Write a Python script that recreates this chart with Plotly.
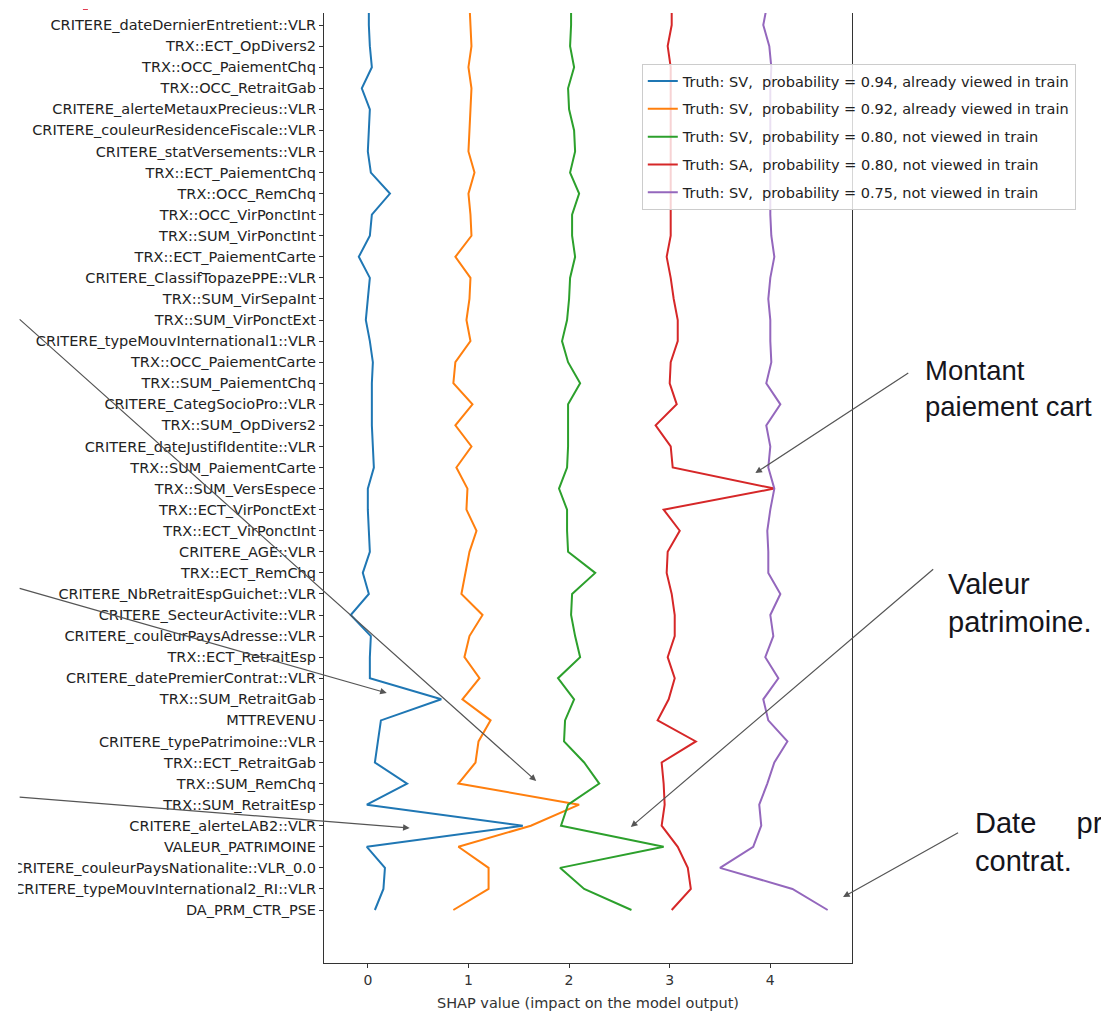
import plotly.graph_objects as go

# Features, listed top to bottom as they appear on the y axis
features = [
    "CRITERE_dateDernierEntretient::VLR", "TRX::ECT_OpDivers2", "TRX::OCC_PaiementChq",
    "TRX::OCC_RetraitGab", "CRITERE_alerteMetauxPrecieus::VLR", "CRITERE_couleurResidenceFiscale::VLR",
    "CRITERE_statVersements::VLR", "TRX::ECT_PaiementChq", "TRX::OCC_RemChq",
    "TRX::OCC_VirPonctInt", "TRX::SUM_VirPonctInt", "TRX::ECT_PaiementCarte",
    "CRITERE_ClassifTopazePPE::VLR", "TRX::SUM_VirSepaInt", "TRX::SUM_VirPonctExt",
    "CRITERE_typeMouvInternational1::VLR", "TRX::OCC_PaiementCarte", "TRX::SUM_PaiementChq",
    "CRITERE_CategSocioPro::VLR", "TRX::SUM_OpDivers2", "CRITERE_dateJustifIdentite::VLR",
    "TRX::SUM_PaiementCarte", "TRX::SUM_VersEspece", "TRX::ECT_VirPonctExt",
    "TRX::ECT_VirPonctInt", "CRITERE_AGE::VLR", "TRX::ECT_RemChq",
    "CRITERE_NbRetraitEspGuichet::VLR", "CRITERE_SecteurActivite::VLR", "CRITERE_couleurPaysAdresse::VLR",
    "TRX::ECT_RetraitEsp", "CRITERE_datePremierContrat::VLR", "TRX::SUM_RetraitGab",
    "MTTREVENU", "CRITERE_typePatrimoine::VLR", "TRX::ECT_RetraitGab",
    "TRX::SUM_RemChq", "TRX::SUM_RetraitEsp", "CRITERE_alerteLAB2::VLR",
    "VALEUR_PATRIMOINE", "CRITERE_couleurPaysNationalite::VLR_0.0", "CRITERE_typeMouvInternational2_RI::VLR",
    "DA_PRM_CTR_PSE",
]

# Cumulative SHAP value at each feature (top to bottom), plus the model output above the top feature
blue_out = 0.01
blue = [0.01, 0.02, 0.04, -0.06, 0.02, 0.01, 0.00, 0.03, 0.22, 0.04, 0.02, -0.09, 0.02, 0.00, -0.02,
        0.02, 0.05, 0.04, 0.04, 0.04, 0.05, 0.06, 0.00, 0.00, 0.01, 0.02, -0.05, 0.01, -0.17, 0.03,
        0.02, 0.02, 0.73, 0.13, 0.10, 0.07, 0.39, -0.01, 1.54, -0.01, 0.17, 0.155, 0.07]
orange_out = 1.01
orange = [1.02, 1.03, 1.00, 1.03, 1.02, 1.01, 1.00, 1.06, 1.00, 1.02, 1.03, 0.87, 1.02, 1.01, 0.98,
          1.02, 0.87, 0.85, 1.04, 0.87, 1.03, 0.88, 0.99, 0.98, 1.08, 1.01, 0.97, 0.93, 1.14, 1.01,
          0.96, 1.11, 0.94, 1.22, 1.10, 1.07, 0.90, 2.10, 1.62, 0.90, 1.20, 1.20, 0.85]
green_out = 2.02
green = [2.02, 2.01, 2.05, 1.99, 2.00, 2.05, 2.06, 2.01, 2.10, 2.03, 2.03, 2.06, 2.01, 2.00, 1.98,
         1.93, 1.99, 2.11, 1.99, 1.99, 1.99, 1.98, 1.90, 1.98, 1.98, 1.99, 2.26, 2.03, 2.02, 2.06,
         2.11, 1.89, 2.05, 1.96, 1.95, 2.15, 2.30, 1.99, 1.92, 2.94, 1.91, 2.15, 2.62]
red_out = 3.02
red = [3.02, 2.98, 3.01, 3.01, 3.01, 3.01, 3.01, 3.01, 3.01, 3.01, 3.01, 2.97, 3.01, 3.04, 3.08,
       3.08, 3.01, 3.00, 3.07, 2.86, 3.01, 3.03, 4.04, 2.94, 3.10, 2.98, 2.97, 3.02, 3.05, 3.05,
       2.98, 3.05, 2.99, 2.88, 3.26, 2.92, 2.94, 2.95, 2.92, 3.08, 3.18, 3.21, 3.02]
purple_out = 3.97
purple = [3.93, 3.99, 4.01, 4.00, 4.00, 4.00, 4.00, 4.00, 4.00, 4.00, 4.01, 4.04, 4.00, 3.98, 4.00,
          4.00, 4.01, 3.96, 4.10, 3.96, 4.00, 3.98, 4.04, 4.00, 3.97, 3.98, 3.98, 4.10, 4.00, 4.03,
          3.95, 4.08, 3.93, 3.98, 4.17, 4.04, 3.97, 3.89, 3.91, 3.83, 3.50, 4.22, 4.57]

series_names = [
    "Truth: SV,\u00a0 probability = 0.94, already viewed in train",
    "Truth: SV,\u00a0 probability = 0.92, already viewed in train",
    "Truth: SV,\u00a0 probability = 0.80, not viewed in train",
    "Truth: SA,\u00a0 probability = 0.80, not viewed in train",
    "Truth: SV,\u00a0 probability = 0.75, not viewed in train",
]
series_values = [blue, orange, green, red, purple]
series_outputs = [blue_out, orange_out, green_out, red_out, purple_out]
colors = ["#1f77b4", "#ff7f0e", "#2ca02c", "#d62728", "#9467bd"]
x_ticks = [0, 1, 2, 3, 4]

# Side notes (text as visible in the reference slide, cut by its right edge)
note_texts = [
    "Montant<br>paiement cart",
    "Valeur<br>patrimoine.",
    "Date\u00a0\u00a0\u00a0\u00a0\u00a0pr<br>contrat.",
]

n = len(features)
y_pos = [n - 1 - i for i in range(n)]  # top feature highest

fig = go.Figure()
for name, vals, out, col in zip(series_names, series_values, series_outputs, colors):
    fig.add_trace(go.Scatter(
        x=[out] + vals, y=[n] + y_pos, mode="lines", name=name, legendgroup=name,
        line=dict(color=col, width=2),
    ))

# Layout in screenshot pixels; the page body adds an 8px offset
OFF = 8
SW, SH = 1109, 1019
W, H = SW - OFF, SH - OFF
L, R, T, B = 322, 852, 13, 963
px_per_x = 101.0
x0_px = 366.0
py_per_y = 21.07
y0_py = 910.0

def dx(px):
    return (px - x0_px) / px_per_x

def dy(py):
    return (y0_py - py) / py_per_y

def paper_x(px):
    return (px - L) / (R - L)

def paper_y(py):
    return 1 - (py - T) / (B - T)

fig.update_layout(
    width=W, height=H,
    margin=dict(l=L - OFF, r=SW - R, t=T - OFF, b=SH - B, pad=0),
    paper_bgcolor="white", plot_bgcolor="white",
    font=dict(family="DejaVu Sans", color="#222"),
    showlegend=True,
    legend=dict(
        x=paper_x(641), y=paper_y(64), xanchor="left", yanchor="top",
        bgcolor="rgba(255,255,255,0.8)", bordercolor="#cccccc", borderwidth=1,
        font=dict(family="DejaVu Sans", size=14.5, color="#222"),
        tracegroupgap=6, itemwidth=30,
    ),
    xaxis=dict(
        range=[dx(L), dx(R)], tickvals=x_ticks, showgrid=False, zeroline=False,
        showline=True, linecolor="#333", linewidth=1.2, ticks="outside", ticklen=4, tickcolor="#333",
        tickfont=dict(size=14, color="#333"),
        title=dict(text="SHAP value (impact on the model output)", font=dict(size=14.5, color="#333"), standoff=10),
    ),
    yaxis=dict(
        range=[dy(B), dy(T)], tickvals=y_pos, ticktext=features, showgrid=False, zeroline=False,
        showline=True, mirror=True, linecolor="#333", linewidth=1.2, ticks="outside", ticklen=4,
        tickcolor="#333", tickfont=dict(size=14.5, color="#222"),
    ),
)

# white strip at far left (cropped edge of the original screenshot)
fig.add_shape(type="rect", xref="paper", yref="paper", layer="above",
              x0=paper_x(OFF - 2), x1=paper_x(15), y0=-0.1, y1=1.05,
              fillcolor="white", line=dict(width=0))
# small red mark at the top-left of the slide
fig.add_shape(type="rect", xref="paper", yref="paper", layer="above",
              x0=paper_x(80), x1=paper_x(85), y0=paper_y(10), y1=paper_y(OFF + 1),
              fillcolor="#e23d52", line=dict(width=0))

arrow_style = dict(showarrow=True, arrowhead=2, arrowsize=1.1, arrowwidth=1.2, arrowcolor="#555",
                   xref="x", yref="y", axref="x", ayref="y", text="")
arrows = [
    ((15, 318), (535, 781)),
    ((15, 588), (385, 693)),
    ((15, 797), (408, 828)),
    ((910, 372), (755, 473)),
    ((935, 568), (630, 827)),
    ((960, 832), (843, 897)),
]
for (tx, ty), (hx, hy) in arrows:
    fig.add_annotation(x=dx(hx), y=dy(hy), ax=dx(tx), ay=dy(ty), **arrow_style)

note_pos = [(923, 389, 27.5), (946, 603, 29), (973, 842, 29)]
for (px, py, fs), txt in zip(note_pos, note_texts):
    fig.add_annotation(x=paper_x(px), y=paper_y(py), xref="paper", yref="paper",
                       xanchor="left", yanchor="middle", align="left", showarrow=False,
                       text=txt, font=dict(family="Liberation Sans", size=fs, color="#15151c"))

fig.write_html("out.html")
